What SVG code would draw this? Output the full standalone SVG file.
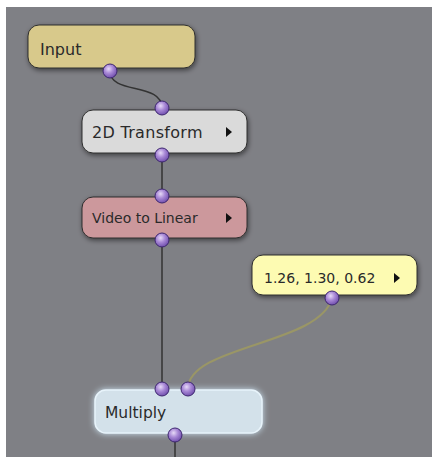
<svg xmlns="http://www.w3.org/2000/svg" width="432" height="457" viewBox="0 0 432 457">
<defs>
<radialGradient id="pg" cx="0.4" cy="0.35" r="0.7">
<stop offset="0" stop-color="#e6d9f7"/>
<stop offset="0.45" stop-color="#a888d6"/>
<stop offset="1" stop-color="#6a48a8"/>
</radialGradient>
<filter id="sh" x="-20%" y="-30%" width="140%" height="170%">
<feGaussianBlur in="SourceAlpha" stdDeviation="2.5"/>
<feOffset dx="1" dy="2" result="b"/>
<feComponentTransfer><feFuncA type="linear" slope="0.5"/></feComponentTransfer>
<feMerge><feMergeNode/><feMergeNode in="SourceGraphic"/></feMerge>
</filter>
<filter id="glow" x="-20%" y="-40%" width="140%" height="180%">
<feGaussianBlur in="SourceAlpha" stdDeviation="3" result="b"/>
<feFlood flood-color="#d8f0ff" flood-opacity="0.9"/>
<feComposite in2="b" operator="in"/>
<feMerge><feMergeNode/><feMergeNode in="SourceGraphic"/></feMerge>
</filter>
</defs>
<style>
.node{stroke:#2e2e2e;stroke-width:1}
.lbl{font-family:"DejaVu Sans","Liberation Sans",sans-serif;font-size:15.5px;fill:#2a2a2a}
.port{fill:url(#pg);stroke:#3e2770;stroke-width:1}
.tri{fill:#111}
.wire{fill:none;stroke:#333;stroke-width:1.5}
</style>
<rect x="0" y="0" width="432" height="457" fill="#ffffff"/>
<rect x="6" y="7" width="426" height="450" fill="#7f8085"/>
<g id="connectors">
<path class="wire" d="M110,71 C110,95 162,82 162,108"/>
<path class="wire" d="M162,155 L162,196"/>
<path class="wire" d="M162,240 L162,389"/>
<path class="wire" d="M175,435 L175,457"/>
<path d="M332,298 C320,345 188,345 188,389" fill="none" stroke="#9a9666" stroke-width="2"/>
</g>
<g id="input">
<rect class="node" x="28" y="25" width="167" height="43" rx="11" fill="#d8c98b" filter="url(#sh)"/>
<text class="lbl" x="40" y="55" style="font-size:16px">Input</text>
<circle class="port" cx="110" cy="71" r="7"/>
</g>
<g id="transform2d">
<rect class="node" x="82" y="110" width="165" height="43" rx="11" fill="#dadada" filter="url(#sh)"/>
<text class="lbl" x="92" y="138" style="font-size:16px;letter-spacing:0.3px">2D Transform</text>
<path class="tri" d="M226,127 L232,132 L226,137 Z"/>
<circle class="port" cx="162" cy="108" r="7"/>
<circle class="port" cx="162" cy="155" r="7"/>
</g>
<g id="videotolinear">
<rect class="node" x="82" y="197" width="165" height="41" rx="11" fill="#cc989c" filter="url(#sh)"/>
<text class="lbl" x="92" y="223" style="font-size:14px">Video to Linear</text>
<path class="tri" d="M226,213 L232,218 L226,223 Z"/>
<circle class="port" cx="162" cy="196" r="7"/>
<circle class="port" cx="162" cy="240" r="7"/>
</g>
<g id="color">
<rect class="node" x="252" y="255" width="165" height="40" rx="11" fill="#fdfbb2" filter="url(#sh)"/>
<text class="lbl" x="264" y="283" style="font-size:14px">1.26, 1.30, 0.62</text>
<path class="tri" d="M394,273 L400,278 L394,283 Z"/>
<circle class="port" cx="332" cy="298" r="7"/>
</g>
<g id="multiply">
<rect x="95" y="390" width="167" height="43" rx="11" fill="#d3e1ea" stroke="#e8f4fb" stroke-width="1.5" filter="url(#glow)"/>
<text class="lbl" x="105" y="418" style="font-size:15.5px">Multiply</text>
<circle class="port" cx="162" cy="389" r="7"/>
<circle class="port" cx="188" cy="389" r="7"/>
<circle class="port" cx="175" cy="435" r="7"/>
</g>
</svg>
